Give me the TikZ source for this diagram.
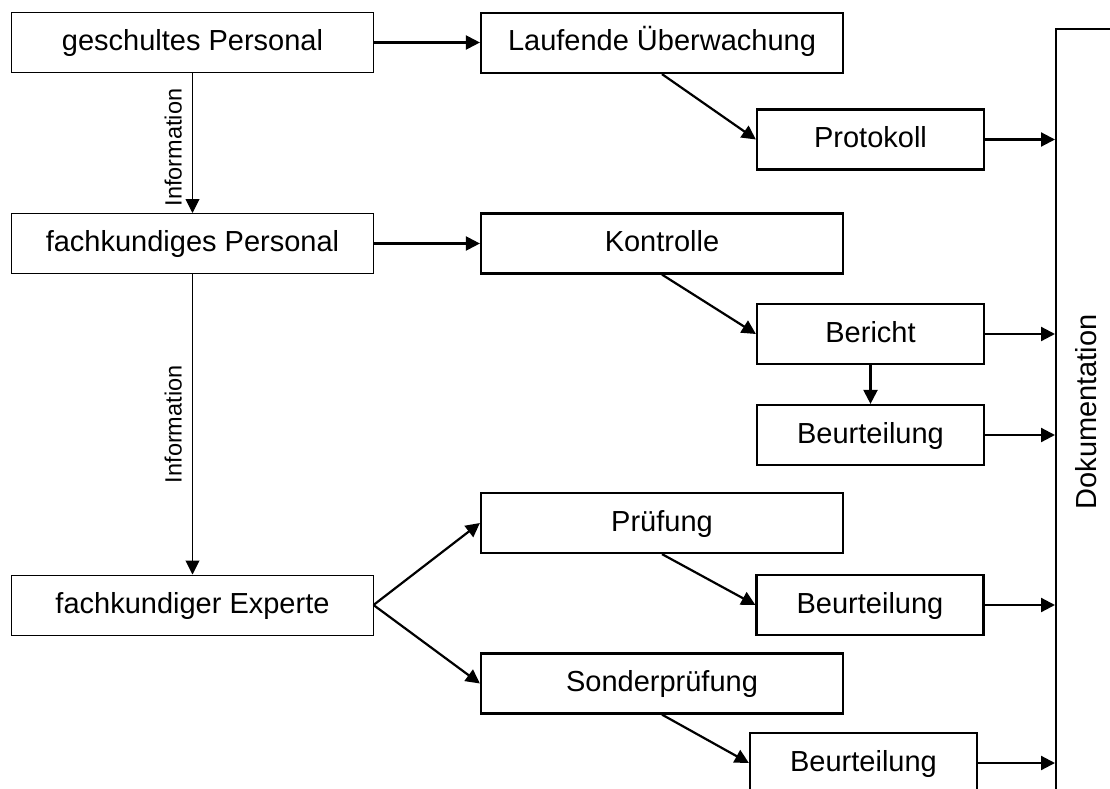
\documentclass[tikz,border=0pt]{standalone}
\usepackage{fontspec}
\setmainfont{Liberation Sans}
\usetikzlibrary{arrows.meta}

\tikzset{
  boxtext/.style={font=\fontsize{29bp}{34bp}\selectfont, text height=21bp, text depth=5bp},
  thinbox/.style={draw, line width=1bp, inner sep=0pt, minimum height=60bp,
    minimum width=361bp, boxtext},
  widebox/.style={draw, line width=2.2bp, inner sep=0pt, minimum height=60bp,
    minimum width=362bp, boxtext},
  smallbox/.style={draw, line width=2.2bp, inner sep=0pt, minimum height=60bp,
    minimum width=227bp, boxtext},
  thinarrow/.style={line width=1bp, -{Triangle[length=14bp,width=14bp]}},
  thickarrow/.style={line width=2.2bp, -{Triangle[length=14bp,width=14bp]}},
  infolabel/.style={rotate=90, anchor=south, inner sep=0pt,
    font=\fontsize{23.5bp}{28bp}\selectfont},
}

\begin{document}
\begin{tikzpicture}[x=1bp, y=-1bp]
  \clip (0,0) rectangle (1110,789);
  \fill[white] (0,0) rectangle (1110,789);

  % left column: who is involved
  \node[thinbox] (gp) at (192.5,42.5) {geschultes Personal};
  \node[thinbox] (fp) at (192.5,243.5) {fachkundiges Personal};
  \node[thinbox] (fe) at (192.5,605) {fachkundiger Experte};

  % middle column: activities
  \node[widebox] (lu) at (662,43) {Laufende Überwachung};
  \node[widebox] (ko) at (662,243.5) {Kontrolle};
  \node[widebox] (pu) at (662,523) {Prüfung};
  \node[widebox] (so) at (662,683.5) {Sonderprüfung};

  % right column: results
  \node[smallbox] (pr) at (870.5,139.5) {Protokoll};
  \node[smallbox] (be) at (870.5,334) {Bericht};
  \node[smallbox] (bu1) at (870.5,435) {Beurteilung};
  \node[smallbox] (bu2) at (870,605) {Beurteilung};
  \node[smallbox] (bu3) at (863.5,763) {Beurteilung};

  % documentation bar on the far right
  \node[draw, line width=2.2bp, inner sep=0pt, minimum width=63bp,
    minimum height=770bp, anchor=north west] (dok) at (1055,28) {};
  \node[rotate=90, font=\fontsize{29bp}{34bp}\selectfont] (doktext)
    at (1086,412) {Dokumentation};

  % information flow
  \draw[thinarrow] (gp.south) -- coordinate[midway] (m1) (fp.north);
  \draw[thinarrow] (fp.south) -- coordinate[midway] (m2) (fe.north);
  \node[infolabel] (info1) at ([xshift=-10.5bp, yshift=-4.5bp]m1) {Information};
  \node[infolabel] (info2) at ([xshift=-10.5bp]m2) {Information};

  % personnel to activities
  \draw[thickarrow] (gp.east) -- (lu.west |- gp.east);
  \draw[thickarrow] (fp.east) -- (ko.west);
  \draw[thickarrow] (fe.east) -- (pu.west);
  \draw[thickarrow] (fe.east) -- (so.west);

  % activities to results
  \draw[thickarrow] (lu.south) -- (pr.west);
  \draw[thickarrow] (ko.south) -- (be.west);
  \draw[thickarrow] (be.south) -- (bu1.north);
  \draw[thickarrow] (pu.south) -- (bu2.west);
  \draw[thickarrow] (so.south) -- (bu3.west);

  % results into the documentation
  \draw[thickarrow] (pr.east) -- (pr.east -| dok.west);
  \draw[thickarrow] (be.east) -- (be.east -| dok.west);
  \draw[thickarrow] (bu1.east) -- (bu1.east -| dok.west);
  \draw[thickarrow] (bu2.east) -- (bu2.east -| dok.west);
  \draw[thickarrow] (bu3.east) -- (bu3.east -| dok.west);
\end{tikzpicture}
\end{document}
